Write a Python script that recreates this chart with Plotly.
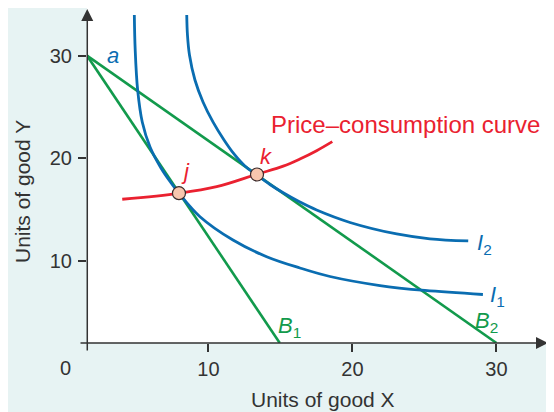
import plotly.graph_objects as go

# Budget lines (start at point a on the y-axis, end on the x-axis)
b1_x = [1.56, 14.95]
b1_y = [30.0, 2.02]
b2_x = [1.56, 30.0]
b2_y = [30.0, 2.02]

# Indifference curve I1
i1_x = [4.85, 4.91, 5.08, 5.40, 5.94, 6.70, 7.43, 7.95, 9.41, 11.70, 14.04, 16.35, 18.44, 21.91, 25.03, 29.06]
i1_y = [33.95, 30.55, 26.65, 23.53, 21.10, 19.06, 17.55, 16.59, 14.31, 12.04, 10.42, 9.32, 8.49, 7.61, 7.13, 6.74]

# Indifference curve I2
i2_x = [8.49, 8.54, 8.68, 9.06, 9.62, 10.31, 11.08, 11.77, 12.53, 13.35, 14.27, 15.19, 16.35, 17.51,
        19.83, 23.07, 25.38, 28.04]
i2_y = [33.95, 32.00, 30.05, 27.62, 25.48, 23.54, 21.78, 20.42, 19.25, 18.38, 17.45, 16.64, 15.74, 14.96,
        13.75, 12.63, 12.16, 11.95]

# Price-consumption curve
pcc_x = [4.01, 7.95, 10.57, 13.37, 15.19, 16.35, 17.51, 18.60]
pcc_y = [16.01, 16.59, 17.23, 18.45, 19.23, 19.93, 20.74, 21.62]

# Optimum points j and k
opt_x = [7.95, 13.37]
opt_y = [16.60, 18.42]

x_ticks = [10, 20, 30]
y_ticks = [10, 20, 30]

BLUE = '#0a6db1'
GREEN = '#129a4c'
RED = '#ea2130'
AXIS = '#333333'
FONT = 'Liberation Sans'

fig = go.Figure()

fig.add_trace(go.Scatter(x=b1_x, y=b1_y, mode='lines', line=dict(color=GREEN, width=2.6)))
fig.add_trace(go.Scatter(x=b2_x, y=b2_y, mode='lines', line=dict(color=GREEN, width=2.6)))
fig.add_trace(go.Scatter(x=i1_x, y=i1_y, mode='lines', line=dict(color=BLUE, width=2.8, shape='spline')))
fig.add_trace(go.Scatter(x=i2_x, y=i2_y, mode='lines', line=dict(color=BLUE, width=2.8, shape='spline')))
fig.add_trace(go.Scatter(x=pcc_x, y=pcc_y, mode='lines', line=dict(color=RED, width=2.8, shape='spline')))
fig.add_trace(go.Scatter(
    x=opt_x, y=opt_y, mode='markers',
    marker=dict(size=13, color='#f8c6ae', line=dict(color='#3a2a2a', width=1.2))
))

annotations = [
    # axes with arrowheads
    dict(x=0.9957, y=0, xref='paper', yref='paper', ax=-469, ay=0, axref='pixel', ayref='pixel',
         text='', showarrow=True, arrowhead=2, arrowsize=1.6, arrowwidth=1.5, arrowcolor=AXIS),
    dict(x=0.0006, y=0.997, xref='paper', yref='paper', ax=0, ay=343, axref='pixel', ayref='pixel',
         text='', showarrow=True, arrowhead=2, arrowsize=1.6, arrowwidth=1.5, arrowcolor=AXIS),
    # origin label and axis titles
    dict(x=-0.0475, y=-0.075, xref='paper', yref='paper', text='0', showarrow=False,
         xanchor='center', yanchor='middle', font=dict(size=20, color=AXIS, family=FONT)),
    dict(x=0.51, y=-0.17, xref='paper', yref='paper', text='Units of good X', showarrow=False,
         xanchor='center', yanchor='middle', font=dict(size=21, color=AXIS, family=FONT)),
    dict(x=-0.138, y=0.451, xref='paper', yref='paper', text='Units of good Y', showarrow=False,
         xanchor='center', yanchor='middle', textangle=-90, font=dict(size=21, color=AXIS, family=FONT)),
    # curve labels
    dict(x=3.37, y=29.96, text='<i>a</i>', showarrow=False, font=dict(size=22, color=BLUE, family=FONT)),
    dict(x=8.37, y=18.67, text='<i>j</i>', showarrow=False, font=dict(size=22, color=RED, family=FONT)),
    dict(x=13.99, y=20.22, text='<i>k</i>', showarrow=False, font=dict(size=22, color=RED, family=FONT)),
    dict(x=14.2, y=23.24, text='Price–consumption curve', showarrow=False, xanchor='left',
         font=dict(size=24, color=RED, family=FONT)),
    dict(x=28.5, y=11.7, text='<i>I</i><sub>2</sub>', showarrow=False, xanchor='left',
         font=dict(size=22, color=BLUE, family=FONT)),
    dict(x=29.4, y=6.55, text='<i>I</i><sub>1</sub>', showarrow=False, xanchor='left',
         font=dict(size=22, color=BLUE, family=FONT)),
    dict(x=14.7, y=3.55, text='<i>B</i><sub>1</sub>', showarrow=False, xanchor='left',
         font=dict(size=22, color=GREEN, family=FONT)),
    dict(x=28.35, y=4.05, text='<i>B</i><sub>2</sub>', showarrow=False, xanchor='left',
         font=dict(size=22, color=GREEN, family=FONT)),
]

# the page body has an 8px margin, so the figure is sized and offset for it
fig.update_layout(
    width=546, height=404,
    margin=dict(l=79, r=4, t=0, b=69, autoexpand=False),
    paper_bgcolor='#e7f3f3',
    plot_bgcolor='#ffffff',
    showlegend=False,
    font=dict(family=FONT, size=20, color=AXIS),
    annotations=annotations,
)

fig.update_xaxes(
    range=[1.5625, 33.72], tickvals=x_ticks, ticks='outside', ticklen=8, tickwidth=1.5,
    tickcolor=AXIS, showgrid=False, zeroline=False, showline=False, automargin=False,
    tickfont=dict(size=20, color=AXIS, family=FONT), ticklabelstandoff=0,
)
fig.update_yaxes(
    range=[2.016, 34.63], tickvals=y_ticks, ticks='outside', ticklen=8, tickwidth=1.5,
    tickcolor=AXIS, showgrid=False, zeroline=False, showline=False, automargin=False,
    tickfont=dict(size=20, color=AXIS, family=FONT), ticklabelstandoff=2,
)

fig.write_html("out.html")
